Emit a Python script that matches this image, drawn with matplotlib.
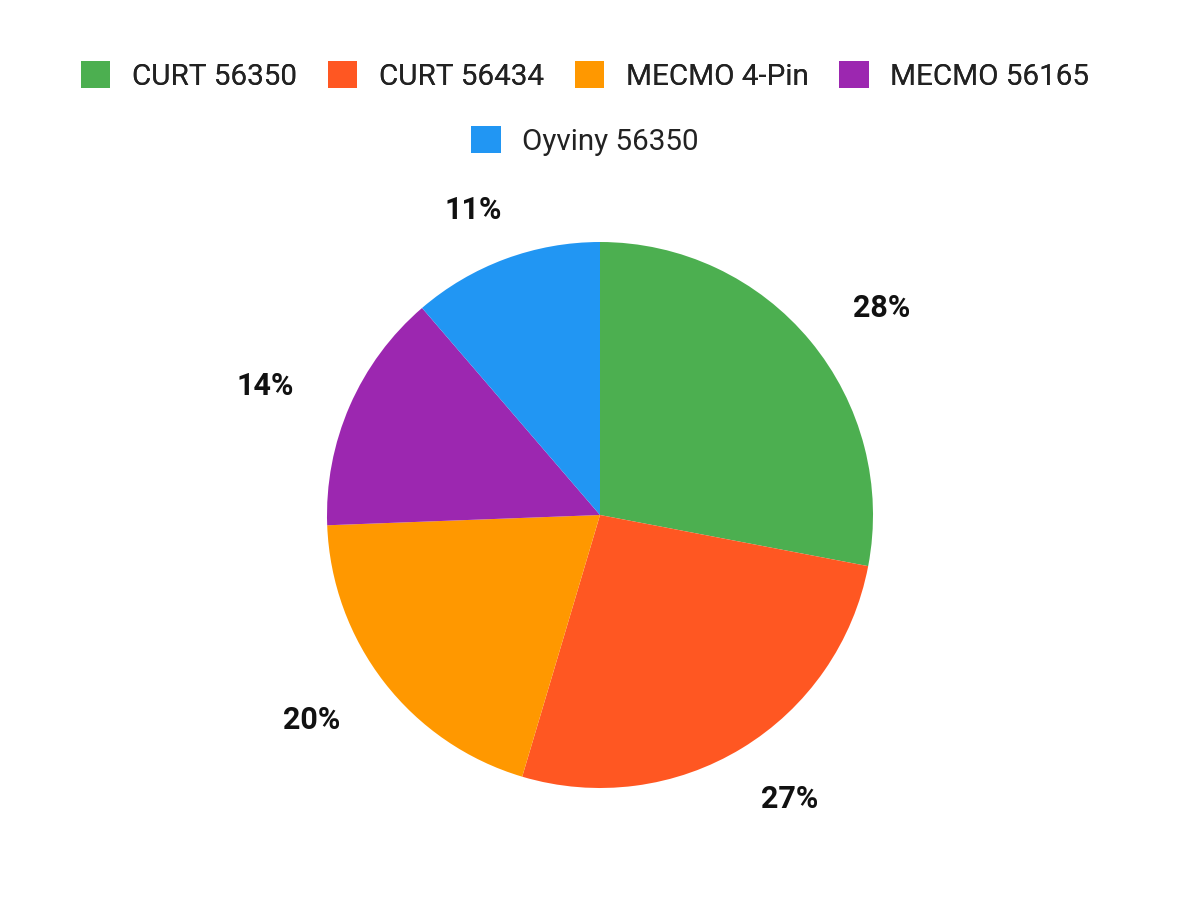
import numpy as np
import matplotlib.pyplot as plt
from matplotlib.patches import Patch

plt.rcParams['font.family'] = ['Roboto', 'DejaVu Sans']

labels = ['CURT 56350', 'CURT 56434', 'MECMO 4-Pin', 'MECMO 56165', 'Oyviny 56350']
values = [28.0, 26.6, 19.8, 14.3, 11.3]
colors = ['#4CAF50', '#FF5722', '#FF9800', '#9C27B0', '#2196F3']

fig = plt.figure(figsize=(12, 9), dpi=100)

# pie centred at (600, 515) px, radius ~273 px
r = 273
ax = fig.add_axes([(600 - r) / 1200, (385 - r) / 900, 2 * r / 1200, 2 * r / 900])
wedges, _ = ax.pie(values, colors=colors, startangle=90, counterclock=False,
                   wedgeprops=dict(linewidth=0))

# percentage labels outside each wedge, on a slightly wide ellipse
total = sum(values)
for w, v in zip(wedges, values):
    ang = np.deg2rad((w.theta1 + w.theta2) / 2)
    ax.text(1.337 * np.cos(ang), 1.205 * np.sin(ang), f'{v / total * 100:.0f}%',
            ha='center', va='center_baseline',
            fontsize=22, fontweight='bold', color='#111111')

ax.set_xlim(-1, 1)
ax.set_ylim(-1, 1)
ax.set_aspect('equal')

handles = [Patch(facecolor=c, edgecolor='none') for c in colors]
kw = dict(frameon=False, fontsize=21.3, handlelength=1.0, handleheight=1.0,
          handletextpad=0.72, columnspacing=1.05, labelcolor='#222222')
leg1 = fig.legend(handles[:4], labels[:4], ncol=4, loc='center',
                  bbox_to_anchor=(0.4875, 1 - 76 / 900), **kw)
fig.add_artist(leg1)
fig.legend(handles[4:], labels[4:], ncol=1, loc='center',
           bbox_to_anchor=(0.4875, 1 - 141 / 900), **kw)

fig.savefig('out.png', dpi=100, facecolor='white')
